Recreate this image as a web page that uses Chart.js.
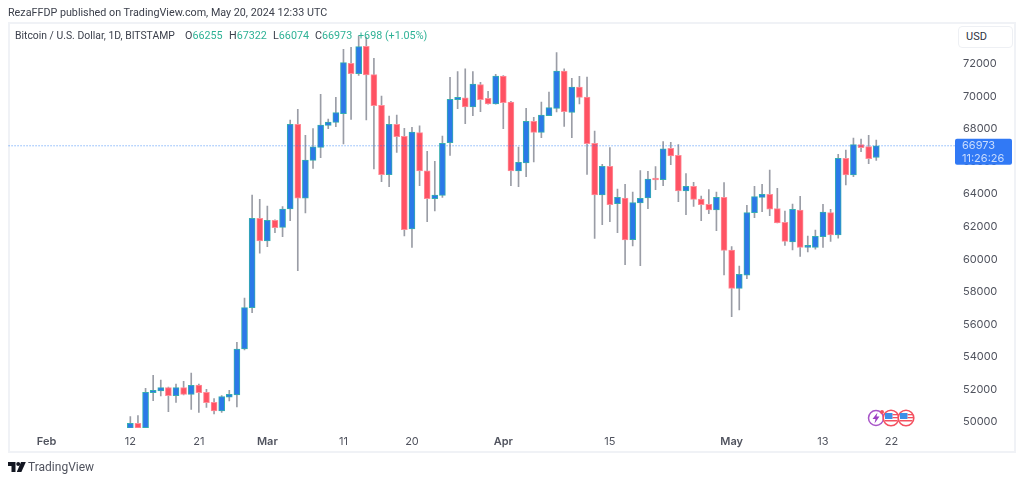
<!DOCTYPE html>
<html>
<head>
<meta charset="utf-8">
<title>BTCUSD</title>
<script src="https://cdn.jsdelivr.net/npm/chart.js@4"></script>
<style>
    html, body { margin: 0; padding: 0; background: #fff; }
    body { width: 1024px; height: 482px; overflow: hidden; position: relative; font-family: Roboto, "Liberation Sans", sans-serif; color: #3c404c; }
    #frame { position: absolute; left: 8px; top: 22px; width: 1008px; height: 431px; box-sizing: border-box; border: 2px solid #f0f2f6; }
    #wrap { position: absolute; left: 0; top: 0; width: 1024px; height: 482px; }
    .txt { position: absolute; white-space: nowrap; font-size: 10.75px; line-height: 14px; }
    .up { color: #2fb296; }
    #usd { position: absolute; left: 958px; top: 26px; width: 55px; height: 22px; box-sizing: border-box; border: 1px solid #eef0f4; border-radius: 4px; font-size: 11px; line-height: 20px; padding-left: 7px; color: #30343f; background: #fff; }
    #icons { position: absolute; left: 866px; top: 408px; }
    #logo { position: absolute; left: 8px; top: 461px; }
</style>
</head>
<body>
<div id="frame"></div>
<div id="wrap"><canvas id="btc-chart"></canvas></div>

<div class="txt" style="left:8px;top:6px;">RezaFFDP published on TradingView.com, May 20, 2024 12:33 UTC</div>
<div class="txt" style="left:15px;top:29px;font-size:10.4px;">Bitcoin / U.S. Dollar, 1D, BITSTAMP</div>
<div class="txt" style="left:185px;top:29px;">O<span class="up">66255</span></div>
<div class="txt" style="left:229px;top:29px;">H<span class="up">67322</span></div>
<div class="txt" style="left:273px;top:29px;">L<span class="up">66074</span></div>
<div class="txt" style="left:315px;top:29px;">C<span class="up">66973</span></div>
<div class="txt up" style="left:358px;top:29px;">+698 (+1.05%)</div>
<div id="usd">USD</div>

<svg id="icons" width="50" height="20" viewBox="0 0 50 20">
    <circle cx="10" cy="10" r="7.5" fill="#fff" stroke="#a855c8" stroke-width="1.5"/>
    <path d="M11.5 4.5 L6.5 11 L9.5 11 L8.5 15.5 L13.5 8.5 L10.5 8.5 Z" fill="#9c3fc4"/>
    <g>
        <circle cx="25" cy="10" r="7.8" fill="#fff" stroke="#f4505f" stroke-width="1.6"/>
        <rect x="19" y="5" width="7.5" height="6" fill="#3d8fe8"/>
        <rect x="26.5" y="6" width="5.5" height="1.3" fill="#f4505f"/>
        <rect x="26.5" y="9" width="5.5" height="1.3" fill="#f4505f"/>
        <rect x="18.5" y="12" width="13" height="1.5" fill="#f4505f"/>
    </g>
    <g>
        <circle cx="40" cy="10" r="7.8" fill="#fff" stroke="#f4505f" stroke-width="1.6"/>
        <rect x="34" y="5" width="7.5" height="6" fill="#3d8fe8"/>
        <rect x="41.5" y="6" width="5.5" height="1.3" fill="#f4505f"/>
        <rect x="41.5" y="9" width="5.5" height="1.3" fill="#f4505f"/>
        <rect x="33.5" y="12" width="13" height="1.5" fill="#f4505f"/>
    </g>
    <circle cx="16" cy="4" r="2" fill="#f4505f"/>
</svg>

<svg id="logo" width="18" height="12" viewBox="0 0 18 12">
    <path d="M0 1 H7.5 V11 H3.5 V5 H0 Z" fill="#131722"/>
    <circle cx="10.2" cy="3" r="2" fill="#131722"/>
    <path d="M13 1 H17.8 L13.4 11 H8.8 Z" fill="#131722"/>
</svg>
<div class="txt" style="left:28px;top:460px;font-size:12px;color:#50535e;">TradingView</div>

<script>
    // one entry per trading day, 12 Feb to 20 May 2024
    const firstCandle = '2024-02-12';
    const firstDay = '2024-01-27';
    const dayCount = 126;

    const opens = [
        49613, 49920, 49650, 51800, 51905, 52108, 51616, 52108, 51702, 52270,
        51825, 51210, 50676, 51518, 51660, 54486, 57024, 62517, 61122, 62395,
        61960, 63089, 68293, 63747, 66080, 66880, 68232, 68415, 68945, 72040,
        71403, 73086, 71342, 69460, 65197, 68293, 67555, 61860, 67780, 65440,
        63722, 63930, 67165, 69806, 69928, 69357, 70728, 69890, 69541, 71262,
        69664, 65424, 65916, 68478, 67802, 68823, 69277, 71569, 69030, 70586,
        69970, 67126, 63949, 65713, 63415, 63765, 61203, 63458, 63765, 64933,
        64890, 66818, 66388, 64195, 64484, 63704, 63377, 63028, 63808, 60570,
        58216, 59015, 62862, 63808, 63992, 63108, 62273, 61062, 63027, 60735,
        60735, 61387, 62862, 61492, 66205, 65178, 67041, 66918, 66255
    ];
    const highs = [
        50326, 50387, 52070, 52870, 52580, 52150, 52335, 52500, 53010, 52335,
        52010, 51432, 51616, 51950, 54900, 57620, 63950, 63685, 63273, 62420,
        63230, 68558, 69215, 67618, 68024, 70137, 68620, 69953, 72903, 73026,
        73720, 73660, 72349, 70033, 68804, 68866, 68048, 68110, 68207, 66635,
        66020, 67575, 71182, 71526, 71710, 71526, 70875, 70322, 71366, 71290,
        69700, 66899, 69277, 68724, 69664, 70279, 72694, 71710, 71121, 71243,
        71200, 67882, 65836, 66856, 64318, 64606, 64134, 65443, 65406, 65688,
        67225, 67188, 67040, 65258, 64730, 63888, 64275, 64134, 64705, 60772,
        59586, 63316, 64484, 64606, 65485, 64360, 62967, 63396, 63870, 61430,
        61798, 63378, 63070, 66450, 66714, 67452, 67391, 67618, 67322
    ];
    const lows = [
        49600, 49600, 49620, 51310, 51600, 50633, 51210, 51660, 50780, 50596,
        50900, 50490, 50596, 51290, 50920, 54430, 56720, 60367, 60772, 61632,
        61387, 62370, 59297, 62843, 65590, 66241, 68024, 68147, 67083, 68601,
        71305, 68558, 65547, 64766, 64459, 66573, 61430, 60735, 64521, 62309,
        62966, 63808, 66389, 69252, 68331, 68823, 69068, 69530, 69530, 68024,
        64521, 64459, 65074, 65977, 67470, 68823, 69050, 68170, 67470, 69541,
        65221, 61288, 62125, 62309, 61632, 59666, 60815, 59605, 63107, 64275,
        64520, 65811, 63537, 62739, 63255, 62370, 62800, 61755, 59033, 56471,
        56882, 58806, 62554, 62923, 62677, 62229, 60858, 60569, 60182, 60446,
        60613, 60735, 61104, 61290, 64564, 65073, 66610, 65873, 66074
    ];
    const closes = [
        49920, 49630, 51825, 51950, 52108, 51616, 52108, 51702, 52255, 51800,
        51186, 50676, 51555, 51702, 54486, 57024, 62517, 61122, 62395, 61940,
        63089, 68293, 63747, 66100, 66917, 68251, 68435, 69007, 72079, 71403,
        73063, 71323, 69437, 65197, 68293, 67532, 61817, 67821, 65424, 63722,
        63949, 67126, 69830, 69953, 69357, 70770, 69806, 69541, 71262, 69622,
        65424, 65959, 68478, 67802, 68866, 69314, 71569, 69068, 70586, 69953,
        67102, 63949, 65713, 63353, 63808, 61184, 63477, 63747, 64933, 64870,
        66794, 66346, 64195, 64484, 63685, 63354, 63027, 63808, 60551, 58216,
        59076, 62862, 63845, 63992, 63071, 62229, 61104, 63071, 60735, 60760,
        61411, 62905, 61491, 66205, 65178, 67041, 66856, 66180, 66973
    ];

    const priceTicks = [50000, 52000, 54000, 56000, 58000, 60000, 62000, 64000, 66000, 68000, 70000, 72000];
    const timeTickDays = ['2024-02-01', '2024-02-12', '2024-02-21', '2024-03-01', '2024-03-11', '2024-03-20', '2024-04-01', '2024-04-15', '2024-05-01', '2024-05-13', '2024-05-22'];
    const timeTickLabels = ['Feb', '12', '21', 'Mar', '11', '20', 'Apr', '15', 'May', '13', '22'];
    const monthLabels = ['Feb', 'Mar', 'Apr', 'May'];

    const lastPrice = 66973;
    const countdown = '11:26:26';

    const createDays = () => {
        let days = [];
        let start = new Date(firstDay + 'T00:00:00Z');
        for (let i = 0; i < dayCount; i++) {
            let d = new Date(start.getTime() + i * 86400000);
            days.push(d.toISOString().slice(0, 10));
        }
        return days;
    };

    const days = createDays();
    const offset = days.indexOf(firstCandle);

    const bodyData = days.map((d, i) => {
        let j = i - offset;
        return j >= 0 && j < opens.length ? [opens[j], closes[j]] : null;
    });
    const wickData = days.map((d, i) => {
        let j = i - offset;
        return j >= 0 && j < opens.length ? [lows[j], highs[j]] : null;
    });
    const isUp = ctx => {
        let j = ctx.dataIndex - offset;
        return closes[j] >= opens[j];
    };

    const priceLabel = {
        id: 'priceLabel',
        afterDraw(chart) {
            const c = chart.ctx;
            const y = chart.scales.y.getPixelForValue(lastPrice);
            c.save();
            c.fillStyle = '#3179f5';
            c.beginPath();
            c.roundRect(955, y - 7, 57, 26, 2);
            c.fill();
            c.fillStyle = '#c9dcfd';
            c.font = '11px Inter';
            c.textBaseline = 'middle';
            c.textAlign = 'left';
            c.fillText(String(lastPrice), 962, y);
            c.fillText(countdown, 962, y + 13);
            c.restore();
        }
    };

    const zeroPadding = scale => {
        scale.paddingTop = 0;
        scale.paddingBottom = 0;
        scale.paddingLeft = 0;
        scale.paddingRight = 0;
    };

    new Chart(document.getElementById('btc-chart'), {
        type: 'bar',
        data: {
            labels: days,
            datasets: [
                {
                    type: 'line',
                    label: 'Last',
                    data: days.map(() => lastPrice),
                    borderColor: 'rgba(30, 120, 250, .8)',
                    borderWidth: 1,
                    borderDash: [1, 2],
                    pointRadius: 0,
                    order: 0
                },
                {
                    label: 'Body',
                    data: bodyData,
                    grouped: false,
                    barThickness: 6,
                    minBarLength: 2,
                    borderWidth: 1,
                    borderSkipped: false,
                    backgroundColor: ctx => isUp(ctx) ? '#2b79e8' : '#ff5263',
                    borderColor: ctx => isUp(ctx) ? '#35aeb0' : '#ff8d98',
                    order: 1
                },
                {
                    label: 'Wick',
                    data: wickData,
                    grouped: false,
                    barThickness: 1,
                    backgroundColor: '#9a9da6',
                    order: 2
                }
            ]
        },
        options: {
            responsive: true,
            maintainAspectRatio: false,
            animation: false,
            layout: { padding: { left: 8.55, right: 11, top: 25, bottom: 30 } },
            plugins: {
                legend: { display: false },
                tooltip: { enabled: false }
            },
            scales: {
                x: {
                    offset: false,
                    grid: { display: false, drawTicks: false },
                    border: { display: false },
                    afterFit: scale => {
                        scale.height = 24;
                        zeroPadding(scale);
                    },
                    ticks: {
                        autoSkip: false,
                        maxRotation: 0,
                        padding: 7,
                        color: '#50535e',
                        font: ctx => {
                            let label = ctx.tick ? ctx.tick.label : '';
                            return { family: 'Inter', size: 11, weight: monthLabels.includes(label) ? 600 : 400 };
                        },
                        callback: function (value) {
                            let pos = timeTickDays.indexOf(this.getLabelForValue(value));
                            return pos === -1 ? null : timeTickLabels[pos];
                        }
                    }
                },
                y: {
                    position: 'right',
                    min: 49631,
                    max: 74396,
                    grid: { display: false, drawTicks: false },
                    border: { display: false },
                    afterBuildTicks: scale => {
                        scale.ticks = priceTicks.map(v => ({ value: v }));
                    },
                    afterFit: scale => {
                        scale.width = 53;
                        zeroPadding(scale);
                    },
                    ticks: {
                        padding: 3,
                        color: '#50535e',
                        font: { family: 'Inter', size: 11 },
                        callback: value => String(value)
                    }
                }
            }
        },
        plugins: [priceLabel]
    });
</script>
</body>
</html>
